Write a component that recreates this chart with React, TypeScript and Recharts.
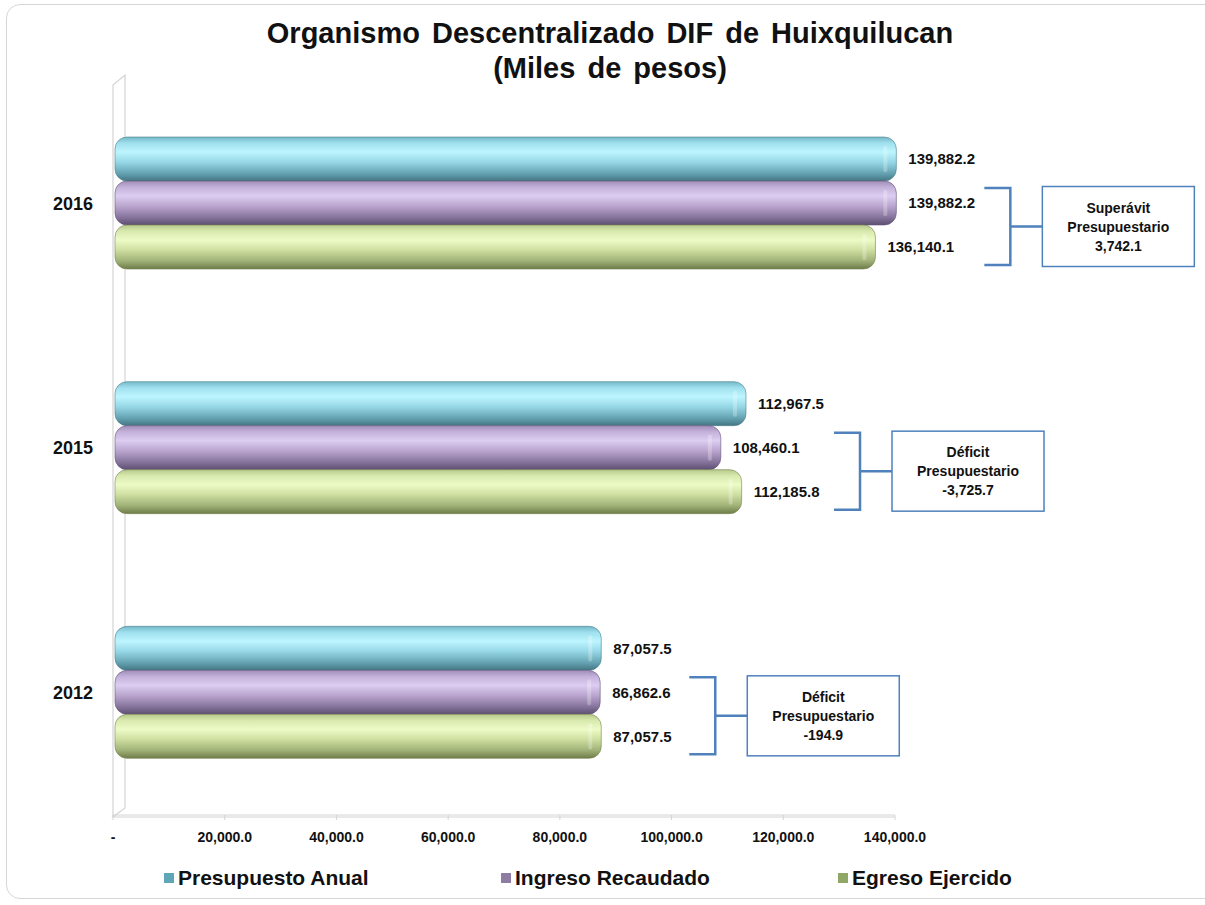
import { Bar, BarChart, LabelList, XAxis, YAxis } from "recharts";

const years = ["2016", "2015", "2012"];
const presupuestoAnual = [139882.2, 112967.5, 87057.5];
const ingresoRecaudado = [139882.2, 108460.1, 86862.6];
const egresoEjercido = [136140.1, 112185.8, 87057.5];
const xTicks = [0, 20000, 40000, 60000, 80000, 100000, 120000, 140000];
const seriesNames = ["Presupuesto Anual", "Ingreso Recaudado", "Egreso Ejercido"];

const data = years.map((year, i) => ({
  year,
  presupuesto: presupuestoAnual[i],
  ingreso: ingresoRecaudado[i],
  egreso: egresoEjercido[i],
  balance: ingresoRecaudado[i] - egresoEjercido[i],
}));

const FONT = "'Liberation Sans', Arial, Helvetica, sans-serif";
const W = 1205;
const H = 905;
const PLOT_LEFT = 113;
const PLOT_TOP = 81;
const PLOT_BOTTOM = 815;
const PLOT_RIGHT = 895;

const fmt = (v: number) =>
  v.toLocaleString("en-US", { minimumFractionDigits: 1, maximumFractionDigits: 1 });

const tickFmt = (v: number) => (v === 0 ? "-" : fmt(v));

// gradient stops for the glossy cylinder look
const palettes = {
  blue: ["#74b8c8", "#a0e0ee", "#bdf5ff", "#98d9e7", "#66a4b4", "#437684"],
  purple: ["#a08db8", "#c4b1da", "#ddcdf1", "#bba7d0", "#88759d", "#5d4f72"],
  green: ["#b6c88a", "#d8e9ae", "#edfbc7", "#d0e0a2", "#a0b177", "#6e7c48"],
};
const legendColors = ["#5fa6b7", "#8e7ca5", "#8fa865"];

const cylinder = (id: string, edge: string) => (props: any) => {
  const { x, y, width, height } = props;
  if (!width || width <= 0) return <g />;
  const r = Math.min(12, width / 2);
  return (
    <g>
      <rect x={x + 2} y={y} width={width} height={height} rx={r} ry={r} fill={`url(#${id})`} stroke={edge} strokeWidth={0.6} />
      <rect
        x={x + width - 11}
        y={y + height * 0.2}
        width={4}
        height={height * 0.6}
        rx={2}
        fill="#ffffff"
        opacity={0.25}
      />
    </g>
  );
};

const BalanceNote = (props: any) => {
  const vb = props.viewBox ?? props;
  const { x, y, width, height } = vb;
  const value = Number(props.value);
  const i = typeof props.index === "number" ? props.index : data.findIndex((d) => d.egreso === value);
  const row = data[i];
  if (!row || !width) return null;
  const ppu = width / value;
  const maxEnd = x + Math.max(row.presupuesto, row.ingreso, row.egreso) * ppu;
  const armX = maxEnd + 90;
  const spineX = armX + 26;
  const top = y - height + 7;
  const bottom = y + height - 4;
  const mid = (top + bottom) / 2;
  const boxX = spineX + 32;
  const boxW = 152;
  const boxH = 80;
  const boxY = mid - boxH / 2;
  const cx = boxX + boxW / 2;
  const title = row.balance >= 0 ? "Superávit" : "Déficit";
  const textStyle = { fontFamily: FONT, fontWeight: 700, fontSize: 14, fill: "#111" } as const;
  return (
    <g>
      <path
        d={`M${armX},${top} H${spineX} V${bottom} H${armX} M${spineX},${mid} H${boxX}`}
        fill="none"
        stroke="#4f81bd"
        strokeWidth={2.5}
      />
      <rect x={boxX} y={boxY} width={boxW} height={boxH} fill="#fff" stroke="#4f81bd" strokeWidth={1.5} />
      <text x={cx} y={mid - 19} textAnchor="middle" dominantBaseline="central" {...textStyle}>
        {title}
      </text>
      <text x={cx} y={mid} textAnchor="middle" dominantBaseline="central" {...textStyle}>
        Presupuestario
      </text>
      <text x={cx} y={mid + 19} textAnchor="middle" dominantBaseline="central" {...textStyle}>
        {fmt(row.balance)}
      </text>
    </g>
  );
};

const labelProps = {
  position: "right" as const,
  offset: 14,
  formatter: (v: any) => fmt(Number(v)),
  fill: "#111",
  fontSize: 15,
  fontWeight: 700,
  fontFamily: FONT,
};

export default function App() {
  return (
    <div style={{ position: "absolute", left: 0, top: 0, width: W, height: H, background: "#fff", fontFamily: FONT }}>
      {/* frame */}
      <div
        style={{
          position: "absolute",
          left: 6,
          top: 4,
          width: 1215,
          height: 895,
          border: "1px solid #d6d6d6",
          borderRadius: 14,
          boxSizing: "border-box",
        }}
      />
      {/* 3d wall behind the bars */}
      <svg width={W} height={H} style={{ position: "absolute", left: 0, top: 0 }}>
        <path
          d={`M${PLOT_LEFT},${PLOT_BOTTOM + 2} V${PLOT_TOP + 4} L${PLOT_LEFT + 12},${PLOT_TOP - 6} V${PLOT_BOTTOM - 7} L${PLOT_LEFT},${PLOT_BOTTOM + 2} H${PLOT_RIGHT}`}
          fill="none"
          stroke="#d4d4d4"
          strokeWidth={1.2}
        />
      </svg>
      <div
        style={{
          position: "absolute",
          left: 10,
          top: 16,
          width: 1200,
          textAlign: "center",
          fontSize: 29,
          fontWeight: 700,
          lineHeight: "35px",
          wordSpacing: 4,
          color: "#111",
        }}
      >
        Organismo Descentralizado DIF de Huixquilucan
        <br />
        (Miles de pesos)
      </div>
      <div style={{ position: "absolute", left: 0, top: 0 }}>
        <BarChart
          layout="vertical"
          width={W}
          height={H}
          data={data}
          margin={{ top: PLOT_TOP, right: W - PLOT_RIGHT, bottom: 60, left: 0 }}
          barSize={44}
          barGap={0}
        >
          <defs>
            {Object.entries(palettes).map(([key, stops]) => (
              <linearGradient key={key} id={`g-${key}`} x1="0" y1="0" x2="0" y2="1">
                <stop offset="0%" stopColor={stops[0]} />
                <stop offset="14%" stopColor={stops[1]} />
                <stop offset="34%" stopColor={stops[2]} />
                <stop offset="56%" stopColor={stops[3]} />
                <stop offset="82%" stopColor={stops[4]} />
                <stop offset="100%" stopColor={stops[5]} />
              </linearGradient>
            ))}
          </defs>
          <XAxis
            type="number"
            domain={[0, 140000]}
            ticks={xTicks}
            tickFormatter={tickFmt}
            height={30}
            axisLine={{ stroke: "#d4d4d4" }}
            tickLine={{ stroke: "#d4d4d4" }}
            tickSize={5}
            tickMargin={12}
            tick={{ fill: "#111", fontSize: 14, fontWeight: 700, fontFamily: FONT }}
          />
          <YAxis
            type="category"
            dataKey="year"
            width={PLOT_LEFT}
            axisLine={false}
            tickLine={false}
            tickSize={0}
            tickMargin={20}
            tick={{ fill: "#111", fontSize: 18, fontWeight: 700, fontFamily: FONT }}
          />
          <Bar dataKey="presupuesto" name={seriesNames[0]} fill="#7fc4d2" shape={cylinder("g-blue", "#4b7f8c")} isAnimationActive={false}>
            <LabelList dataKey="presupuesto" {...labelProps} />
          </Bar>
          <Bar dataKey="ingreso" name={seriesNames[1]} fill="#a995bf" shape={cylinder("g-purple", "#64557a")} isAnimationActive={false}>
            <LabelList dataKey="ingreso" {...labelProps} />
          </Bar>
          <Bar dataKey="egreso" name={seriesNames[2]} fill="#c0d196" shape={cylinder("g-green", "#75834f")} isAnimationActive={false}>
            <LabelList dataKey="egreso" {...labelProps} />
            <LabelList dataKey="egreso" content={<BalanceNote />} />
          </Bar>
        </BarChart>
      </div>
      {/* legend */}
      {seriesNames.map((name, i) => (
        <div
          key={name}
          style={{
            position: "absolute",
            left: 164 + i * 337,
            top: 866,
            display: "flex",
            alignItems: "center",
            fontSize: 21,
            fontWeight: 700,
            color: "#111",
          }}
        >
          <span style={{ display: "inline-block", width: 10, height: 10, background: legendColors[i], marginRight: 4 }} />
          {name}
        </div>
      ))}
    </div>
  );
}
